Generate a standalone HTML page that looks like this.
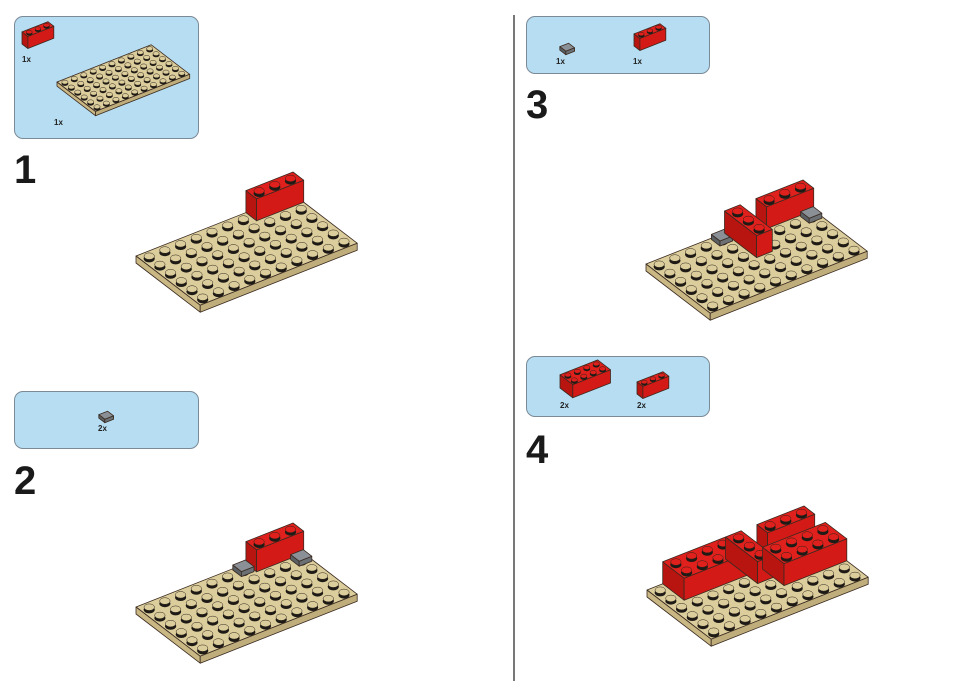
<!DOCTYPE html>
<html><head><meta charset="utf-8">
<style>
body{margin:0;background:#fff;width:960px;height:694px;overflow:hidden;font-family:"Liberation Sans",sans-serif;}
.panel{position:absolute;background:#b7ddf2;border:1.5px solid #7a8a96;border-radius:9px;}
.num{position:absolute;font-weight:bold;font-size:40px;color:#1a1a1a;line-height:1;}
.q{position:absolute;font-size:8px;font-weight:bold;color:#222;}
svg{position:absolute;left:0;top:0;}
</style></head><body>
<div class="panel" style="left:14px;top:16px;width:183px;height:121px"></div>
<div class="panel" style="left:14px;top:391px;width:183px;height:56px"></div>
<div class="panel" style="left:526px;top:16px;width:182px;height:56px"></div>
<div class="panel" style="left:526px;top:356px;width:182px;height:59px"></div>
<div style="position:absolute;left:513px;top:15px;width:2px;height:666px;background:#777"></div>
<div class="num" style="left:14px;top:150px">1</div>
<div class="num" style="left:14px;top:461px">2</div>
<div class="num" style="left:526px;top:85px">3</div>
<div class="num" style="left:526px;top:430px">4</div>
<div class="q" style="left:22px;top:55px">1x</div>
<div class="q" style="left:54px;top:118px">1x</div>
<div class="q" style="left:98px;top:424px">2x</div>
<div class="q" style="left:556px;top:57px">1x</div>
<div class="q" style="left:633px;top:57px">1x</div>
<div class="q" style="left:560px;top:401px">2x</div>
<div class="q" style="left:637px;top:401px">2x</div>
<svg id="s" width="960" height="694" xmlns="http://www.w3.org/2000/svg"></svg>
<script>
var S=document.getElementById('s'),out='';
function P(o,s,i,j){return [o[0]+s*(i*15.7+j*10.7),o[1]+s*(-i*6.2+j*8.2)];}
function poly(p,f){out+='<polygon points="'+p.map(function(a){return a[0].toFixed(1)+','+a[1].toFixed(1)}).join(' ')+'" fill="'+f+'" stroke="#3a2a20" stroke-width="0.8" stroke-linejoin="round"/>';}
function up(p,h){return [p[0],p[1]-h];}
function stud(x,y,s,c){out+='<ellipse cx="'+x.toFixed(1)+'" cy="'+(y+1.8*s).toFixed(1)+'" rx="'+(5.6*s).toFixed(1)+'" ry="'+(3.6*s).toFixed(1)+'" fill="#1e1a16"/>';
out+='<ellipse cx="'+x.toFixed(1)+'" cy="'+(y-0.8*s).toFixed(1)+'" rx="'+(5.2*s).toFixed(1)+'" ry="'+(3.3*s).toFixed(1)+'" fill="'+c+'" stroke="#2a2218" stroke-width="0.5"/>';}
function studs(o,s,i0,j0,a,b,h,c){for(var j=j0;j<j0+b;j++)for(var i=i0+a-1;i>=i0;i--){var p=P(o,s,i+.5,j+.5);stud(p[0],p[1]-h*s,s,c);}}
function plate(o,s,ni,nj){var t=7*s;
poly([P(o,s,0,0),P(o,s,ni,0),P(o,s,ni,nj),P(o,s,0,nj)],'#dccd9c');
var a=P(o,s,0,0),b=P(o,s,0,nj),c=P(o,s,ni,nj);
poly([a,b,[b[0],b[1]+t],[a[0],a[1]+t]],'#c9b784');
poly([b,c,[c[0],c[1]+t],[b[0],b[1]+t]],'#bfae7c');
studs(o,s,0,0,ni,nj,0,'#dccd9c');}
function brick(o,s,i,j,a,b,h,top,side,front,st){var H=h*s;
var p1=P(o,s,i,j),p2=P(o,s,i,j+b),p3=P(o,s,i+a,j+b),p4=P(o,s,i+a,j);
poly([up(p1,H),up(p2,H),p2,p1],side);
poly([up(p2,H),up(p3,H),p3,p2],front);
poly([up(p1,H),up(p4,H),up(p3,H),up(p2,H)],top);
if(st)studs(o,s,i,j,a,b,h,top);}
function red(o,s,i,j,a,b){brick(o,s,i,j,a,b,22,'#e0201c','#b81410','#d41a16',true);}
function tile(o,s,i,j){brick(o,s,i+.1,j+.1,.8,.8,5,'#8a9096','#5a5f64','#6b7075',false);}
red([22,44],0.55,0,0,3,1);
plate([57,82],0.6,10,6);
tile([97,418],0.7,0,0);
tile([558,50],0.7,0,0);
red([634,46],0.55,0,0,3,1);
red([560,388],0.6,0,0,4,2);
red([637,394],0.55,0,0,3,1);
var o=[136,256];plate(o,1,10,6);red(o,1,7,0,3,1);
o=[136,607];plate(o,1,10,6);red(o,1,7,0,3,1);tile(o,1,9,1);tile(o,1,6,0);
o=[646,264];plate(o,1,10,6);red(o,1,7,0,3,1);tile(o,1,9,1);tile(o,1,4,0);red(o,1,5,0,1,3);
o=[647,590];plate(o,1,10,6);tile(o,1,9,1);tile(o,1,4,0);red(o,1,1,0,4,2);red(o,1,7,0,3,1);red(o,1,5,0,1,3);red(o,1,6,2,4,2);
S.innerHTML=out;
</script>
</body></html>
